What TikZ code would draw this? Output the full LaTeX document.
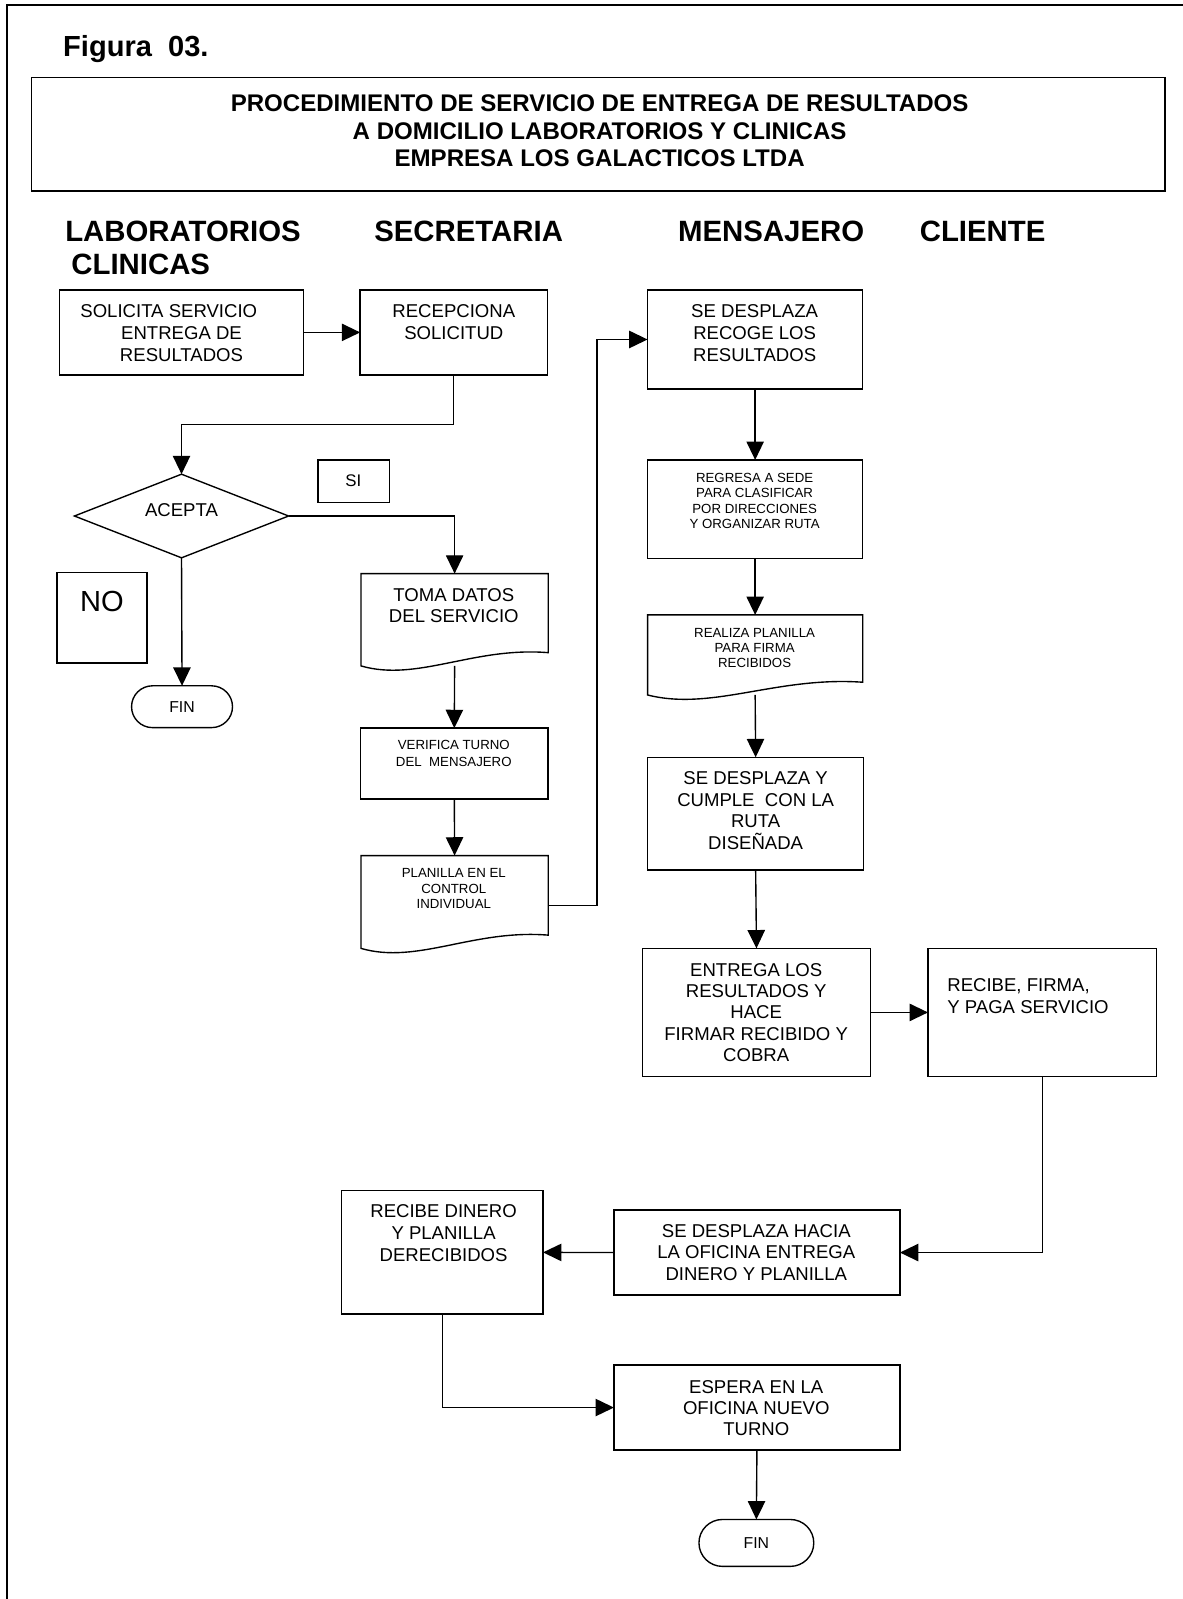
\documentclass[tikz,border=0pt]{standalone}
\usepackage{fontspec}
\setmainfont{Liberation Sans}
\usetikzlibrary{arrows.meta,calc,shapes.misc,shapes.geometric}

\tikzset{
  every node/.style={inner sep=0pt, outer sep=0pt},
  frame/.style={line width=2pt},
  box/.style={draw, line width=1.35pt, anchor=north west},
  ghost/.style={anchor=north west},
  link/.style={line width=1.35pt},
  flow/.style={line width=1.35pt, -{Triangle[length=18pt,width=17pt]}},
  bigtxt/.style={font=\fontsize{18.2}{21.2}\selectfont, align=center, anchor=north},
  smalltxt/.style={font=\fontsize{13}{14.8}\selectfont, align=center, anchor=north},
  headtxt/.style={font=\fontsize{28.8}{32}\selectfont\bfseries, anchor=base west},
  term/.style={draw, line width=1.35pt, rounded rectangle, font=\fontsize{15.5}{18}\selectfont},
  decision/.style={draw, line width=1.35pt, diamond},
}

% document symbol: straight top and sides, wavy bottom edge
% #1 node, #2 rise of the right end above the left end
\newcommand\docoutline[2]{%
  \draw[link] (#1.south west) -- (#1.north west) -- (#1.north east)
    -- ($(#1.south east)+(0,-#2)$)
    .. controls ($(#1.south west)!0.6!(#1.south east)+(0,-#2-6)$)
    and ($(#1.south west)!0.3!(#1.south east)+(0,16)$) .. (#1.south west) -- cycle;}

\begin{document}
\begin{tikzpicture}[x=1pt,y=-1pt]
\useasboundingbox (0,0) rectangle (1160,1568);

% page frame (top and left edges)
\coordinate (fbl) at (6.5,1568);
\coordinate (ftl) at (6.5,4.5);
\coordinate (ftr) at (1160,4.5);
\draw[frame] (fbl) -- (ftl) -- (ftr);

\node[font=\fontsize{28.5}{32}\selectfont\bfseries, anchor=base west] (fig) at (62,55) {Figura\ \ 03.};

% title
\node[box, line width=1.6pt, minimum width=1111.5pt, minimum height=111pt] (titlebox) at (31,76) {};
\node[font=\fontsize{23.6}{27}\selectfont\bfseries, align=center, anchor=north] (title) at (588,93)
  {PROCEDIMIENTO DE SERVICIO DE ENTREGA DE RESULTADOS\\A DOMICILIO LABORATORIOS Y CLINICAS\\EMPRESA LOS GALACTICOS LTDA};

% lane headers
\node[headtxt] (h-lab) at (64,236.5) {LABORATORIOS};
\node[headtxt] (h-cli) at (70,269.5) {CLINICAS};
\node[headtxt] (h-sec) at (367,236.5) {SECRETARIA};
\node[headtxt] (h-men) at (665,236.5) {MENSAJERO};
\node[headtxt] (h-cte) at (902,236.5) {CLIENTE};

% laboratorios / clinicas
\node[box, minimum width=239.2pt, minimum height=83.3pt] (sol) at (58.6,284.3) {};
\node[bigtxt] (sol-t) at (178,299.1) {SOLICITA SERVICIO\hspace*{25pt}\\ENTREGA DE\\RESULTADOS};

\node[decision, minimum width=210pt, minimum height=82pt] (acc) at (178,506) {};
\node[font=\fontsize{18.2}{21}\selectfont] (acc-t) at (178,500) {ACEPTA};

\node[box, minimum width=70pt, minimum height=42pt] (si) at (312,451) {};
\node[font=\fontsize{16.5}{19}\selectfont] (si-t) at (346.5,471) {SI};

\node[box, minimum width=88pt, minimum height=88.5pt] (no) at (56,561.5) {};
\node[font=\fontsize{28.5}{32}\selectfont] (no-t) at (100,589.5) {NO};

\node[term, minimum width=99pt, minimum height=41pt] (fin1) at (178.5,693) {FIN};

% secretaria
\node[box, minimum width=183.4pt, minimum height=83.3pt] (rec) at (353.2,284.3) {};
\node[bigtxt] (rec-t) at (445,299.1) {RECEPCIONA\\SOLICITUD};

\node[ghost, minimum width=183.6pt, minimum height=90.5pt] (toma) at (354,562.5) {};
\docoutline{toma}{13}
\node[bigtxt, font=\fontsize{18.2}{20.7}\selectfont] (toma-t) at (445,576.9) {TOMA DATOS\\DEL SERVICIO};

\node[box, minimum width=184pt, minimum height=69.5pt] (verif) at (353.5,714) {};
\node[smalltxt, font=\fontsize{13}{16.5}\selectfont] (verif-t) at (445,725.9) {VERIFICA TURNO\\DEL\ \ MENSAJERO};

\node[ghost, minimum width=183.6pt, minimum height=91pt] (plan) at (354,839) {};
\docoutline{plan}{13}
\node[smalltxt, font=\fontsize{13}{15.5}\selectfont] (plan-t) at (445,851.4) {PLANILLA EN EL\\CONTROL\\INDIVIDUAL};

\node[box, minimum width=197.5pt, minimum height=121pt] (recd) at (335,1167.6) {};
\node[bigtxt, font=\fontsize{18.2}{21.3}\selectfont] (recd-t) at (435,1181.5) {RECIBE DINERO\\Y PLANILLA\\DERECIBIDOS};

% mensajero
\node[box, minimum width=211pt, minimum height=97.2pt] (desp1) at (635,284.3) {};
\node[bigtxt] (desp1-t) at (740,299.1) {SE DESPLAZA\\RECOGE LOS\\RESULTADOS};

\node[box, minimum width=211pt, minimum height=96.4pt] (regr) at (635,451) {};
\node[smalltxt] (regr-t) at (740,464.4) {REGRESA A SEDE\\PARA CLASIFICAR\\POR DIRECCIONES\\Y ORGANIZAR RUTA};

\node[ghost, minimum width=211pt, minimum height=78.5pt] (real) at (635,603) {};
\docoutline{real}{12.5}
\node[smalltxt] (real-t) at (740,616.4) {REALIZA PLANILLA\\PARA FIRMA\\RECIBIDOS};

\node[box, minimum width=212pt, minimum height=110.4pt] (desp2) at (635,742.6) {};
\node[bigtxt, font=\fontsize{18.2}{21.3}\selectfont] (desp2-t) at (741,756.5) {SE DESPLAZA Y\\CUMPLE\ \ CON LA\\RUTA\\DISEÑADA};

\node[box, minimum width=223.6pt, minimum height=125.6pt] (entr) at (630,930) {};
\node[bigtxt, font=\fontsize{18.2}{20.9}\selectfont] (entr-t) at (741.5,944.5) {ENTREGA LOS\\RESULTADOS Y\\HACE\\FIRMAR RECIBIDO Y\\COBRA};

\node[box, minimum width=280.5pt, minimum height=83.5pt] (desph) at (602,1186.5) {};
\node[bigtxt, font=\fontsize{18.2}{21.3}\selectfont] (desph-t) at (741.6,1200.3) {SE DESPLAZA HACIA\\LA OFICINA ENTREGA\\DINERO Y PLANILLA};

\node[box, minimum width=280.5pt, minimum height=83.5pt] (esp) at (602,1338.5) {};
\node[bigtxt, font=\fontsize{18.2}{20.6}\selectfont] (esp-t) at (741.6,1354) {ESPERA EN LA\\OFICINA NUEVO\\TURNO};

\node[term, minimum width=112.6pt, minimum height=46pt] (fin2) at (741.7,1513) {FIN};

% cliente
\node[box, minimum width=224pt, minimum height=125.6pt] (recf) at (910,930) {};
\node[bigtxt, align=left, anchor=north west] (recf-t) at (929,959.5) {RECIBE, FIRMA,\\Y PAGA SERVICIO};

% connectors
\draw[flow] (sol.east) -- (rec.west);
\draw[flow] (rec.south) -- ++(0,48.5) -| (acc.north);
\draw[flow] (acc.east) -| (toma.north);
\draw[flow] (acc.south) -- (fin1.north);
\draw[flow] (toma.south) -- (verif.north);
\draw[flow] (verif.south) -- (plan.north);
\draw[flow] ([yshift=-3.5pt]plan.east) -- ++(48,0) |- (desp1.west);
\draw[flow] (desp1.south) -- (regr.north);
\draw[flow] (regr.south) -- (real.north);
\draw[flow] (real.south) -- (desp2.north);
\draw[flow] (desp2.south) -- (entr.north);
\draw[flow] (entr.east) -- (recf.west);
\draw[flow] (recf.south) |- (desph.east);
\draw[flow] (desph.west) -- (recd.east);
\draw[flow] (recd.south) |- (esp.west);
\draw[flow] (esp.south) -- (fin2.north);
\end{tikzpicture}
\end{document}
